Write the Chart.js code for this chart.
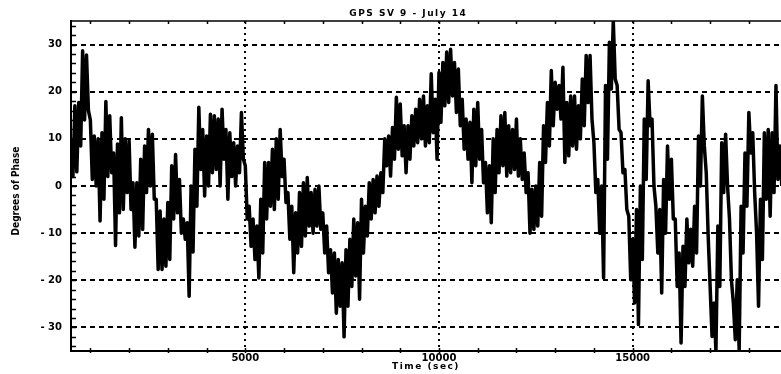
<!DOCTYPE html>
<html>
<head>
<meta charset="utf-8">
<script src="https://cdn.jsdelivr.net/npm/chart.js@4"></script>
<style>
  html,body{margin:0;padding:0;background:#fff;}
  canvas{display:block;}
</style>
</head>
<body>
<canvas id="phaseChart" width="781" height="374"></canvas>
<script>
// samples every 100 s starting at 500 s: top and bottom of the noisy trace
const startTime = 500;
const stepTime = 100;
const hiVals = [
  10, 17, 17.7, 28.7, 27.8, 14, 10.6, 10, 11.3, 17.9,
  14.9, 7, 8.9, 14.5, 10, 9.6, 0.7, 0.7, 5.7, 8.5,
  12, 11, -2.8, -5.3, -7, -3.5, 4.3, 6.7, 1.4, -7,
  -7.8, 0, 7.8, 16.7, 12, 10.6, 15.2,
  14.9, 14.2, 16.3, 12, 11.3, 9.2, 8.5, 15.6, 4.3, -4.3,
  -7, -8.5, -2.8, 5, 5, 7.8, 10, 12, 5.7, -1.4,
  -4.3, -5.7, -1.4, 0.7, 1.8, -1.4, -0.7, 0, -5.7, -8.5,
  -13.5, -14.2, -15.6, -16.3, -13.5, -11.3, -7,
  -7.8, -2.8, -4.3, 0.7, 1.4, 2.1, 2.8, 10, 10.6, 12.4,
  18.8, 17.4, 12.8, 12.8, 14.9, 16.3, 18.4, 19.1, 17, 23.8,
  18.4, 24.1, 26.2, 28.4, 29, 26.2, 24.8, 18.4, 14.2, 13.5,
  16.3, 17.7, 12, 5, 4.3, 10,
  12, 14.9, 15.6, 12.8, 12, 14.2, 10, 7, 2.8, -0.7,
  0, 5, 12.8, 17.7, 24.5, 22, 21.3, 25.2, 17.7, 19.1,
  19.1, 17, 22.7, 27.7, 27.7, 9.2, 1.4, 0, 21.3, 30.5,
  35, 21.3, 11.3, 3.5, -6.4, -11.3,
  -5, 0, 14.2, 22.3, 14.2, -4.3, -5, 1.4, 8.5, 5.7,
  -7, -14.2, -12.8, -7, -9.2, -4.3, 10.6, 19.1, 2.8, -21.3,
  -24.8, -8.5, 9.2, 11, -7, -24.8, -19.9, -4.3, 7, 15.6,
  11.3, -10, -2.8, 11.3, 12, 11.3, 21.3, 8.5
];
const loVals = [
  2, 3, 8.5, 14, 16, 1.4, 0, -7.4, -2.8, 2,
  2.8, -12.6, -5.7, -5, -1.4, -5, -13, -10.6, -9.2, -1.4,
  0, -2.8, -17.7, -17.7, -17, -15.6, -7, -5.7, -10, -11.3,
  -23.4, -14, -4.3, 3.5, -2.1, 0, 2.8,
  3.5, 0, 5.7, -2.8, 2, 0, 2.8, 5.7, -7, -12.8,
  -15.6, -19.5, -14.2, -7, -4.3, -5, -2.8, 2, -3.5, -11.3,
  -18.4, -14.2, -12.8, -10.6, -8.5, -10, -8.5, -9.2, -14.2, -18.4,
  -22.7, -27, -25.5, -32, -25.5, -21.3, -19.1,
  -24, -14.2, -10.6, -7, -5.7, -4.3, -1.4, 4.3, 2.1, 5.7,
  7.8, 6.4, 2.8, 5.7, 8.5, 9.2, 10, 8.5, 9.2, 11.3,
  5.7, 13.5, 17, 17.7, 19.1, 15.6, 12.8, 7.8, 5.7, 0.7,
  4.3, 5.7, 0.7, -5.7, -7.8, -1.4,
  2.8, 4.3, 2.1, 2.8, 3.5, 2.1, 1.4, -1.4, -10, -9.2,
  -8.5, -6.4, 5, 8.5, 12.8, 16.3, 14.2, 5, 6.4, 8.5,
  7.8, 10, 12.8, 17.7, 14.2, -1.4, -10, -19.5, 5.7, 20.6,
  22.7, 12, 2.8, -5, -19.9, -24.8,
  -29.4, -15.6, 1.4, 12.8, 0, -14.2, -22.7, -10, -2.8, -7,
  -21.3, -33.3, -21.3, -16.3, -17, -14.2, 0, 8.5, -10.6, -31.9,
  -35, -21.3, -1.4, 0, -19.9, -32.6, -34.8, -14.2, -4.3, 7,
  -1.4, -25.5, -15.6, -2.8, -6.4, -1.4, 1.4, 0
];
const xTicks = [5000, 10000, 15000];
const yTicks = [-30, -20, -10, 0, 10, 20, 30];
const titleText = 'GPS SV 9 - July 14';
const xTitle = 'Time (sec)';
const yTitle = 'Degrees of Phase';

// zigzag between top and bottom of the band
const points = [];
hiVals.forEach((h, i) => {
  const t = startTime + i * stepTime;
  points.push({x: t, y: h});
  points.push({x: t + stepTime / 2, y: loVals[i]});
});

const decor = {
  id: 'decor',
  afterDraw(chart) {
    const {ctx, chartArea: a, scales: {x, y}} = chart;
    ctx.save();
    ctx.strokeStyle = '#000';
    ctx.lineWidth = 1.5;
    ctx.beginPath();
    // top border
    ctx.moveTo(a.left, a.top); ctx.lineTo(a.right, a.top);
    // minor ticks on y axis
    for (let v = -34; v <= 34; v += 2) {
      const py = Math.round(y.getPixelForValue(v)) + 0.5;
      ctx.moveTo(a.left, py); ctx.lineTo(a.left + 5, py);
    }
    // minor ticks top and bottom
    for (let v = 1000; v <= 18000; v += 1000) {
      const px = Math.round(x.getPixelForValue(v)) + 0.5;
      ctx.moveTo(px, a.top); ctx.lineTo(px, a.top + 3);
      ctx.moveTo(px, a.bottom - 3); ctx.lineTo(px, a.bottom + 2);
    }
    ctx.stroke();

    ctx.fillStyle = '#000';
    ctx.textAlign = 'center';
    ctx.textBaseline = 'middle';
    ctx.font = 'bold 9px "DejaVu Sans"';
    ctx.letterSpacing = '1.5px';
    ctx.fillText(titleText, a.left + a.width * 0.475, 14);
    ctx.fillText(xTitle, (a.left + a.right) / 2, 367);
    ctx.letterSpacing = '0px';
    ctx.translate(16, (a.top + a.bottom) / 2 + 5);
    ctx.rotate(-Math.PI / 2);
    ctx.font = 'bold 10px "Liberation Sans Narrow", "DejaVu Sans Condensed", sans-serif';
    ctx.fillText(yTitle, 0, 0);
    ctx.restore();
  }
};

new Chart(document.getElementById('phaseChart'), {
  type: 'line',
  data: {
    datasets: [{
      data: points,
      borderColor: '#000',
      borderWidth: 3.5,
      borderJoinStyle: 'round',
      pointRadius: 0,
      tension: 0
    }]
  },
  options: {
    responsive: false,
    animation: false,
    layout: {padding: {top: 21, right: 0, left: 0, bottom: 0}},
    plugins: {legend: {display: false}, tooltip: {enabled: false}},
    scales: {
      x: {
        type: 'linear',
        min: 500,
        max: 18830,
        afterBuildTicks: s => { s.ticks = xTicks.map(v => ({value: v})); },
        afterFit: s => { s.height = 23; },
        ticks: {
          color: '#000', padding: 1, autoSkip: false, maxRotation: 0,
          font: {family: 'DejaVu Sans', size: 10, weight: 'bold'},
          callback: v => String(v)
        },
        grid: {color: '#000', lineWidth: 2, drawTicks: false},
        border: {display: true, color: '#000', width: 2, dash: [2, 4]}
      },
      y: {
        min: -35,
        max: 35,
        afterBuildTicks: s => { s.ticks = yTicks.map(v => ({value: v})); },
        afterFit: s => { s.width = 71; },
        ticks: {
          color: '#000', padding: 9,
          font: {family: 'DejaVu Sans', size: 10, weight: 'bold'},
          callback: v => String(v).replace('-', '- ')
        },
        grid: {color: '#000', lineWidth: 2, drawTicks: false},
        border: {display: true, color: '#000', width: 2, dash: [5, 4]}
      }
    }
  },
  plugins: [decor]
});
</script>
</body>
</html>
